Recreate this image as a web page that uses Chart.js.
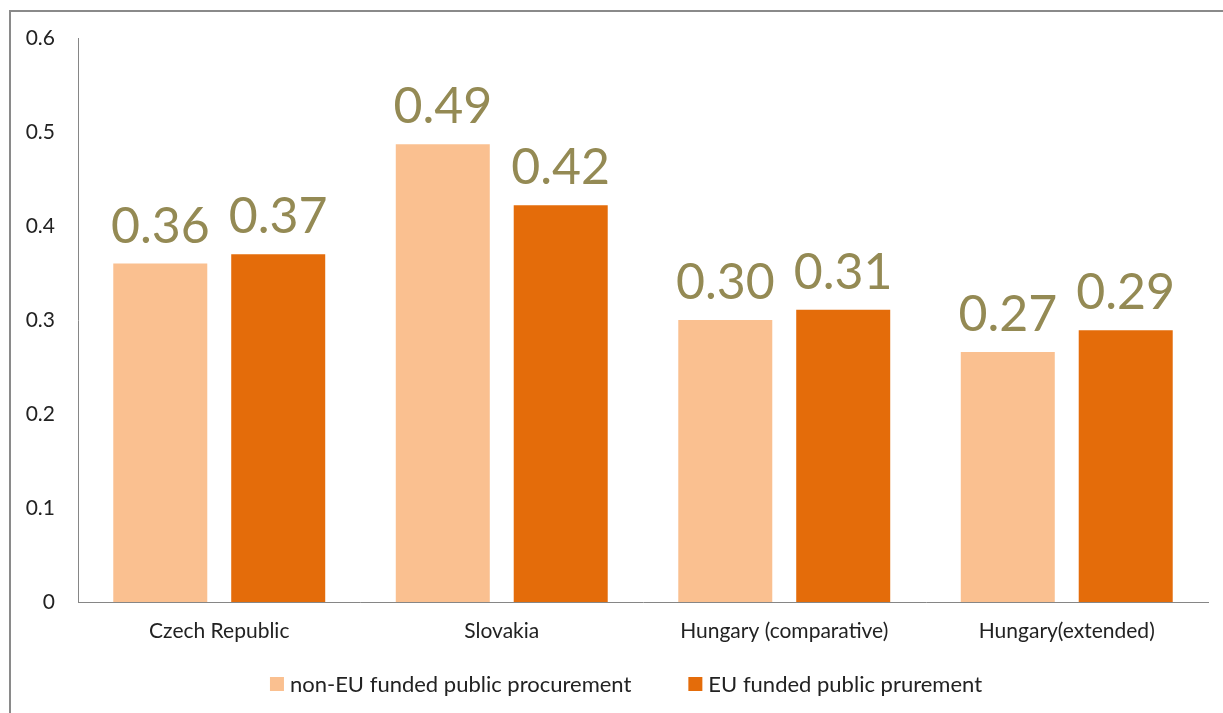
<!DOCTYPE html>
<html><head><meta charset="utf-8">
<script src="https://cdn.jsdelivr.net/npm/chart.js@4"></script>
<style>html,body{margin:0;padding:0;background:#fff;}#wrap{position:relative;width:1223px;height:713px;}</style>
</head><body><div id="wrap"><canvas id="c" width="1223" height="713"></canvas></div>
<script>
const categories = ['Czech Republic', 'Slovakia', 'Hungary (comparative)', 'Hungary(extended)'];
const seriesNames = ['non-EU funded public procurement', 'EU funded public prurement'];
const nonEUValues = [0.36, 0.487, 0.30, 0.266];
const euValues = [0.37, 0.422, 0.311, 0.289];
const yTickValues = [0, 0.1, 0.2, 0.3, 0.4, 0.5, 0.6];

const FONT = 'Lato';

const framePlugin = {
  id: 'frame',
  beforeDraw(chart) {
    const ctx = chart.ctx;
    ctx.save();
    ctx.fillStyle = '#ffffff';
    ctx.fillRect(0, 0, chart.width, chart.height);
    ctx.strokeStyle = '#8a8a8a';
    ctx.lineWidth = 2;
    ctx.beginPath();
    ctx.moveTo(10, chart.height);
    ctx.lineTo(10, 11);
    ctx.lineTo(chart.width, 11);
    ctx.stroke();
    ctx.restore();
  }
};

const valueLabelPlugin = {
  id: 'valueLabels',
  afterDatasetsDraw(chart) {
    const ctx = chart.ctx;
    ctx.save();
    ctx.font = '50px ' + FONT;
    ctx.fillStyle = '#948A54';
    ctx.textAlign = 'center';
    ctx.textBaseline = 'alphabetic';
    chart.data.datasets.forEach((ds, i) => {
      chart.getDatasetMeta(i).data.forEach((bar, j) => {
        ctx.fillText(ds.data[j].toFixed(2), bar.x, bar.y - 21);
      });
    });
    ctx.restore();
  }
};

// Bottom legend drawn on the canvas from the chart's own datasets
const bottomLegendPlugin = {
  id: 'bottomLegend',
  afterDraw(chart) {
    const ctx = chart.ctx;
    const box = 14, gap = 6, itemGap = 57, centerX = 626, baseY = 692;
    ctx.save();
    ctx.font = '22px ' + FONT;
    ctx.textBaseline = 'alphabetic';
    ctx.textAlign = 'left';
    const items = chart.data.datasets.map(ds => ({ text: ds.label, color: ds.backgroundColor, w: ctx.measureText(ds.label).width }));
    let total = 0;
    items.forEach((it, i) => { total += box + gap + it.w + (i < items.length - 1 ? itemGap : 0); });
    let x = centerX - total / 2;
    items.forEach(it => {
      ctx.fillStyle = it.color;
      ctx.fillRect(x, baseY - 15, box, box);
      ctx.fillStyle = '#222222';
      ctx.fillText(it.text, x + box + gap, baseY);
      x += box + gap + it.w + itemGap;
    });
    ctx.restore();
  }
};

new Chart(document.getElementById('c'), {
  type: 'bar',
  data: {
    labels: categories,
    datasets: [
      { label: seriesNames[0], data: nonEUValues, backgroundColor: '#FAC090', borderWidth: 0,
        categoryPercentage: 0.835, barPercentage: 0.797 },
      { label: seriesNames[1], data: euValues, backgroundColor: '#E46C0A', borderWidth: 0,
        categoryPercentage: 0.835, barPercentage: 0.797 }
    ]
  },
  options: {
    responsive: false,
    maintainAspectRatio: false,
    animation: false,
    layout: { padding: { top: 38, right: 15, bottom: 61, left: 0 } },
    plugins: {
      legend: { display: false },
      tooltip: { enabled: false }
    },
    scales: {
      x: {
        grid: { display: false, drawTicks: false },
        border: { display: true, color: '#868686', width: 1 },
        ticks: { font: { family: FONT, size: 21 }, color: '#222222', padding: 17, maxRotation: 0, autoSkip: false },
        afterFit(scale) { scale.height = 50; }
      },
      y: {
        min: 0, max: 0.6,
        grid: { display: false, drawTicks: false },
        border: { display: true, color: '#868686', width: 1 },
        afterBuildTicks(scale) { scale.ticks = yTickValues.map(v => ({ value: v })); },
        ticks: {
          font: { family: FONT, size: 21 }, color: '#222222', padding: 23,
          callback: v => String(Number(v.toFixed(1)))
        },
        afterFit(scale) { scale.width = 78; }
      }
    }
  },
  plugins: [framePlugin, valueLabelPlugin, bottomLegendPlugin]
});
</script>
</body></html>
